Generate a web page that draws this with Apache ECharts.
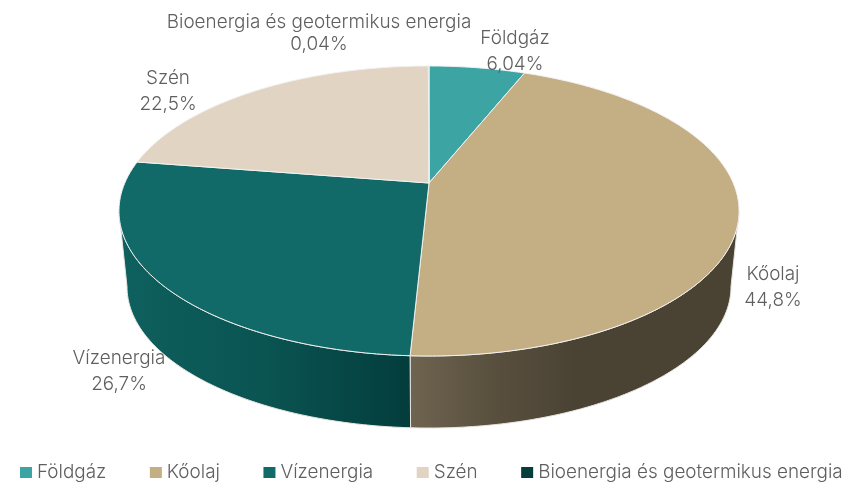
<!DOCTYPE html>
<html>
<head>
<meta charset="utf-8">
<style>
  html, body { margin: 0; padding: 0; background: #fff; }
  #chart { width: 847px; height: 482px; }
</style>
<script src="https://cdn.jsdelivr.net/npm/echarts@6/dist/echarts.min.js"></script>
</head>
<body>
<div id="chart"></div>
<script>
var categories = ['Földgáz', 'Kőolaj', 'Vízenergia', 'Szén', 'Bioenergia és geotermikus energia'];
var shares = [6.04, 44.8, 26.7, 22.5, 0.04];
var topColors = ['#3ca5a4', '#c4ae84', '#126a68', '#e1d4c3', '#033d3c'];

// wall shading, only the two slices that face the viewer show a wall
var wallStops = {
  'Kőolaj': [[0, '#6f6450'], [0.25, '#594f3e'], [0.5, '#4a4334'], [1, '#4a4334']],
  'Vízenergia': [[0, '#0e605e'], [0.5, '#0a5452'], [1, '#033d3c']]
};
// label anchors (centre of the two line text block) and line heights
var labelAnchors = {
  'Földgáz': [515, 51, 26],
  'Kőolaj': [773, 287, 26],
  'Vízenergia': [119, 371, 26],
  'Szén': [168, 91, 26],
  'Bioenergia és geotermikus energia': [319, 33, 22]
};

var FONT = 'Inter, sans-serif';
var FONT_SIZE = 18.9;
var TEXT_COLOR = '#5f5f5f';

// perspective disc: x = cx + a*u/(1-k*v), y = cy + b*v/(1-k*v)
var K = 0.193;
var TOP_DISC = { cx: 429, cy: 183, a: 304.2, b: 139.6 };
var BOTTOM_DISC = { cx: 429, cy: 259.5, a: 296.3, b: 136 };
// clockwise angle from 12 o'clock where the rim stops being visible
var WALL_FROM = Math.acos(-K);
var WALL_TO = 2 * Math.PI - WALL_FROM;

function rimPoint(disc, angle) {
  var u = Math.sin(angle);
  var v = -Math.cos(angle);
  var d = 1 - K * v;
  return [disc.cx + disc.a * u / d, disc.cy + disc.b * v / d];
}

function arcPoints(disc, from, to) {
  var steps = Math.max(2, Math.ceil((to - from) / 0.01));
  var pts = [];
  for (var i = 0; i <= steps; i++) {
    pts.push(rimPoint(disc, from + (to - from) * i / steps));
  }
  return pts;
}

var total = shares.reduce(function (a, b) { return a + b; }, 0);

function sliceRange(index) {
  var before = 0;
  for (var i = 0; i < index; i++) before += shares[i];
  return [before / total * 2 * Math.PI, (before + shares[index]) / total * 2 * Math.PI];
}

function formatShare(value) {
  return String(value).replace('.', ',') + '%';
}

function renderSlice(params, api) {
  var index = params.seriesIndex;
  var name = categories[index];
  var range = sliceRange(index);
  var color = api.visual('color');
  var children = [];

  var wallA = Math.max(range[0], WALL_FROM);
  var wallB = Math.min(range[1], WALL_TO);
  if (wallB > wallA && wallStops[name]) {
    var upper = arcPoints(TOP_DISC, wallA, wallB);
    var lower = arcPoints(BOTTOM_DISC, wallA, wallB);
    var xs = upper.concat(lower).map(function (p) { return p[0]; });
    var stops = wallStops[name].map(function (s) { return { offset: s[0], color: s[1] }; });
    children.push({
      type: 'polygon',
      shape: { points: upper.concat(lower.reverse()) },
      style: {
        fill: new echarts.graphic.LinearGradient(Math.min.apply(null, xs), 0, Math.max.apply(null, xs), 0, stops, true),
        stroke: '#e9e6e0',
        lineWidth: 1
      }
    });
  }

  children.push({
    type: 'polygon',
    z2: 10,
    shape: { points: [[TOP_DISC.cx, TOP_DISC.cy]].concat(arcPoints(TOP_DISC, range[0], range[1])) },
    style: { fill: color, stroke: '#f2f2f2', lineWidth: 1 }
  });

  var anchor = labelAnchors[name];
  children.push({
    type: 'text',
    z2: 100,
    x: anchor[0],
    y: anchor[1],
    style: {
      text: name + '\n' + formatShare(shares[index]),
      font: '300 ' + FONT_SIZE + 'px ' + FONT,
      lineHeight: anchor[2],
      fill: TEXT_COLOR,
      align: 'center',
      verticalAlign: 'middle'
    }
  });

  return { type: 'group', children: children };
}

var chart = echarts.init(document.getElementById('chart'));
chart.setOption({
  animation: false,
  backgroundColor: '#fff',
  legend: {
    left: 15,
    top: 458,
    width: 900,
    icon: 'rect',
    itemWidth: 12,
    itemHeight: 11,
    itemGap: 43.5,
    selectedMode: false,
    data: categories,
    textStyle: { color: TEXT_COLOR, fontFamily: FONT, fontWeight: 300, fontSize: FONT_SIZE }
  },
  series: categories.map(function (name, i) {
    return {
      type: 'custom',
      name: name,
      coordinateSystem: 'none',
      silent: true,
      clip: false,
      itemStyle: { color: topColors[i] },
      renderItem: renderSlice,
      data: [[shares[i]]]
    };
  })
});
</script>
</body>
</html>
